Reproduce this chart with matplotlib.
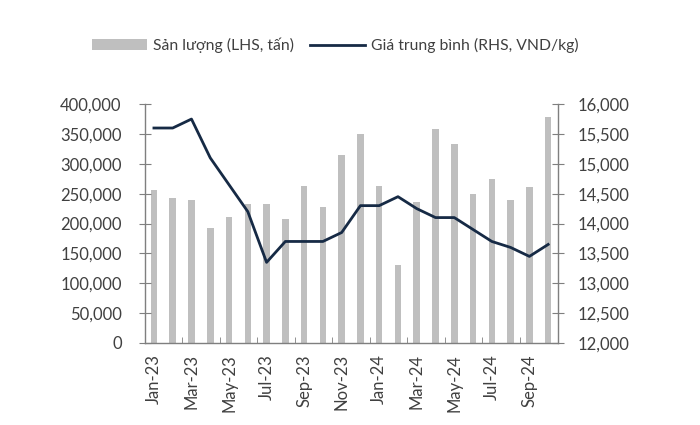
import matplotlib
matplotlib.use("Agg")
import matplotlib.pyplot as plt
from matplotlib.ticker import FuncFormatter

plt.rcParams['font.family'] = ['Lato', 'Open Sans', 'DejaVu Sans']

months = ["Jan-23", "Feb-23", "Mar-23", "Apr-23", "May-23", "Jun-23", "Jul-23",
          "Aug-23", "Sep-23", "Oct-23", "Nov-23", "Dec-23", "Jan-24", "Feb-24",
          "Mar-24", "Apr-24", "May-24", "Jun-24", "Jul-24", "Aug-24", "Sep-24",
          "Oct-24"]
volume = [257000, 243000, 239000, 192000, 211000, 233000, 233000, 208000,
          263000, 228000, 315000, 350000, 263000, 130000, 236000, 359000,
          334000, 250000, 274000, 239000, 262000, 378000]
price = [15600, 15600, 15750, 15100, 14650, 14200, 13350, 13700, 13700,
         13700, 13850, 14300, 14300, 14450, 14250, 14100, 14100, 13900,
         13700, 13600, 13450, 13650]

bar_color = "#bfbfbf"
line_color = "#162a45"
axis_color = "#7f7f7f"
text_color = "#404040"

fig = plt.figure(figsize=(7, 4.25), dpi=100)
ax = fig.add_axes([0.2065, 0.193, 0.59, 0.562])
ax2 = ax.twinx()

x = list(range(len(months)))
bars = ax.bar(x, volume, width=0.35, color=bar_color, label="Sản lượng (LHS, tấn)", zorder=1)
line, = ax2.plot(x, price, color=line_color, linewidth=2, label="Giá trung bình (RHS, VND/kg)")

ax.set_xlim(-0.5, len(months) - 0.5)
ax.set_ylim(0, 400000)
ax.set_yticks(range(0, 400001, 50000))
ax.yaxis.set_major_formatter(FuncFormatter(lambda v, p: f"{int(v):,}"))
ax2.set_ylim(12000, 16000)
ax2.set_yticks(range(12000, 16001, 500))
ax2.yaxis.set_major_formatter(FuncFormatter(lambda v, p: f"{int(v):,}"))

# category labels every other month, boundary ticks between pairs
ax.set_xticks(x[::2])
ax.set_xticklabels(months[::2], rotation=90)
ax.set_xticks([i - 0.5 for i in range(0, len(months) + 1, 2)], minor=True)
ax.tick_params(axis='x', which='major', length=0, pad=8)
ax.tick_params(axis='x', which='minor', direction='in', length=4, color=axis_color)

for a in (ax, ax2):
    for s in a.spines.values():
        s.set_visible(False)
    a.tick_params(axis='y', length=9, direction='inout', color=axis_color,
                  labelsize=12, labelcolor=text_color)
    a.tick_params(axis='x', labelsize=12, labelcolor=text_color)
ax.tick_params(axis='y', pad=12)
ax2.tick_params(axis='y', pad=10)
ax.spines['left'].set_visible(True)
ax.spines['bottom'].set_visible(True)
ax2.spines['right'].set_visible(True)
for s in (ax.spines['left'], ax.spines['bottom'], ax2.spines['right']):
    s.set_color(axis_color)
    s.set_linewidth(1)

leg = fig.legend([bars, line], [bars.get_label(), line.get_label()],
                 loc='center', bbox_to_anchor=(0.479, 0.893), ncol=2, frameon=False,
                 fontsize=11.3, handlelength=3.5, columnspacing=1.0, handletextpad=0.4)
for t in leg.get_texts():
    t.set_color(text_color)

fig.savefig("out.png", dpi=100)
